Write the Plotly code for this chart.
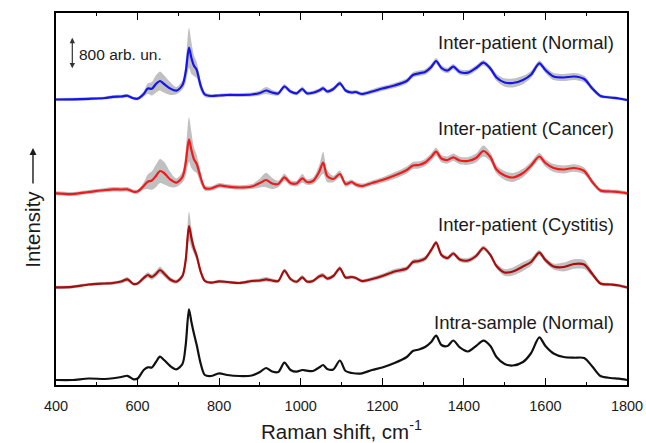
import plotly.graph_objects as go

# Raman shift grid (cm^-1)
wavenumber = [400, 440, 480, 520, 540, 560, 575, 590, 600, 615, 625, 635, 645, 655, 665, 680,
              695, 710, 718, 726, 732, 738, 745, 755, 765, 780, 800, 820, 850, 880, 900, 915,
              930, 945, 960, 975, 990, 1004, 1015, 1030, 1045, 1055, 1065, 1080, 1096, 1110,
              1125, 1135, 1150, 1175, 1200, 1230, 1260, 1275, 1290, 1305, 1320, 1332, 1345,
              1360, 1374, 1390, 1410, 1430, 1448, 1465, 1480, 1500, 1520, 1545, 1565, 1585,
              1600, 1620, 1645, 1670, 1695, 1715, 1735, 1760, 1780, 1800]

# Mean spectra (arb. un.)
normal_mean = [138, 142, 155, 175, 205, 212, 232, 168, 158, 275, 412, 405, 525, 600, 525, 412,
               358, 500, 825, 1432, 1175, 988, 875, 475, 262, 225, 238, 250, 250, 262, 300, 362,
               312, 288, 462, 338, 292, 400, 292, 305, 362, 418, 338, 400, 542, 362,
               312, 325, 275, 338, 412, 488, 600, 750, 792, 825, 950, 1100, 925,
               862, 958, 825, 808, 925, 1058, 912, 688, 562, 550, 625, 762, 1042,
               875, 712, 688, 712, 650, 412, 225, 188, 162, 125]
normal_sd = [40, 40, 40, 40, 45, 45, 45, 40, 40, 70, 130, 170, 220, 240, 220, 160,
             90, 110, 260, 500, 400, 260, 200, 130, 60, 45, 45, 45, 50, 50, 60, 85,
             70, 50, 60, 50, 50, 60, 50, 50, 55, 60, 50, 55, 60, 50,
             50, 50, 50, 55, 60, 65, 70, 70, 70, 70, 75, 75, 70,
             70, 70, 70, 70, 70, 70, 70, 90, 105, 110, 105, 90, 70,
             80, 90, 90, 85, 80, 60, 45, 40, 40, 40]

cancer_mean = [92, 75, 125, 175, 192, 188, 192, 132, 138, 275, 382, 412, 525, 650, 600, 438,
               358, 500, 850, 1442, 1175, 950, 825, 475, 225, 212, 288, 262, 238, 262, 350, 425,
               338, 325, 492, 350, 338, 468, 375, 400, 625, 858, 525, 450, 575, 325,
               375, 312, 275, 350, 425, 538, 675, 788, 800, 862, 1000, 1132, 962,
               925, 992, 912, 900, 975, 1150, 1000, 688, 538, 488, 600, 788, 1012,
               850, 725, 688, 725, 650, 375, 162, 138, 125, 92]
cancer_sd = [50, 50, 50, 50, 55, 55, 55, 50, 50, 90, 180, 230, 280, 300, 280, 190,
             110, 140, 320, 560, 450, 300, 230, 150, 70, 55, 60, 55, 55, 60, 110, 180,
             140, 80, 90, 70, 70, 110, 70, 80, 160, 275, 150, 80, 90, 70,
             65, 60, 60, 65, 70, 80, 85, 90, 90, 90, 95, 100, 95,
             90, 95, 95, 95, 110, 140, 110, 100, 110, 110, 105, 95, 90,
             95, 100, 100, 95, 90, 70, 55, 50, 50, 50]

cystitis_mean = [92, 105, 162, 188, 200, 238, 292, 175, 188, 325, 400, 350, 425, 525, 438, 288,
                 232, 375, 775, 1625, 1325, 1075, 875, 475, 250, 208, 242, 225, 200, 250, 262, 292,
                 262, 250, 508, 300, 232, 342, 238, 250, 362, 388, 312, 375, 568, 338,
                 350, 325, 250, 300, 375, 488, 562, 725, 750, 812, 1025, 1208, 900,
                 825, 938, 788, 762, 875, 1075, 900, 625, 462, 488, 612, 725, 958,
                 775, 612, 600, 675, 662, 425, 188, 162, 138, 92]
cystitis_sd = [40, 40, 40, 40, 45, 45, 60, 40, 40, 60, 70, 70, 80, 90, 80, 60,
               50, 70, 180, 360, 250, 140, 110, 70, 45, 40, 40, 40, 40, 45, 50, 55,
               50, 45, 55, 50, 45, 55, 45, 45, 55, 60, 50, 50, 55, 45,
               45, 45, 45, 50, 55, 60, 60, 60, 60, 60, 60, 55, 55,
               55, 55, 55, 60, 65, 60, 55, 60, 85, 100, 110, 95, 70,
               70, 75, 110, 120, 115, 70, 45, 40, 40, 40]

intra_mean = [125, 125, 162, 150, 168, 200, 230, 142, 162, 375, 442, 438, 575, 708, 625, 475,
              392, 525, 1000, 1892, 1575, 1292, 1000, 525, 250, 225, 292, 250, 225, 238, 325, 425,
              338, 325, 558, 375, 332, 375, 358, 350, 438, 500, 400, 388, 612, 350,
              300, 288, 292, 375, 438, 550, 700, 850, 888, 950, 1075, 1232, 1000,
              975, 1112, 938, 838, 975, 1108, 975, 700, 525, 488, 575, 800, 1192,
              975, 788, 700, 682, 675, 462, 225, 175, 158, 125]

# Stacking offsets and labels
offsets = [7000, 4700, 2350, 0]
labels = ["Inter-patient (Normal)", "Inter-patient (Cancer)",
          "Inter-patient (Cystitis)", "Intra-sample (Normal)"]
means = [normal_mean, cancer_mean, cystitis_mean, intra_mean]
sds = [normal_sd, cancer_sd, cystitis_sd, None]
colors = ["#1414f0", "#f01a1a", "#a80c0c", "#111111"]
label_y = [8575, 6425, 4025, 1575]

BAND = "rgb(192,192,192)"
FONT = "Arial, Liberation Sans, sans-serif"

fig = go.Figure()
for mean, sd, off, col in zip(means, sds, offsets, colors):
    if sd is not None:
        lower = [m - s + off for m, s in zip(mean, sd)]
        upper = [m + s + off for m, s in zip(mean, sd)]
        fig.add_trace(go.Scatter(x=wavenumber, y=lower, mode="lines",
                                 line=dict(width=0, color=BAND, shape="spline", smoothing=0.8),
                                 hoverinfo="skip", showlegend=False))
        fig.add_trace(go.Scatter(x=wavenumber, y=upper, mode="lines", fill="tonexty",
                                 fillcolor=BAND,
                                 line=dict(width=0, color=BAND, shape="spline", smoothing=0.8),
                                 hoverinfo="skip", showlegend=False))
    fig.add_trace(go.Scatter(x=wavenumber, y=[m + off for m in mean], mode="lines",
                             line=dict(width=2.2, color=col, shape="spline", smoothing=0.8),
                             hoverinfo="skip", showlegend=False))

for text, y in zip(labels, label_y):
    fig.add_annotation(x=1773, y=y, xref="x", yref="y", text=text, showarrow=False,
                       xanchor="right", yanchor="middle",
                       font=dict(family=FONT, size=18.5, color="#1a1a1a"))

# 800 arb. un. scale bar
fig.add_annotation(x=440, y=8680, ax=440, ay=7880, xref="x", yref="y", axref="x", ayref="y",
                   text="", showarrow=True, arrowhead=2, startarrowhead=2, arrowside="end+start",
                   arrowsize=0.9, arrowwidth=1.2, arrowcolor="#333333",
                   startarrowsize=0.9)
fig.add_annotation(x=452, y=8275, xref="x", yref="y", text="800 arb. un.", showarrow=False,
                   xanchor="left", yanchor="middle",
                   font=dict(family=FONT, size=15.5, color="#1a1a1a"))

# Y-axis title with an upward arrow
fig.add_annotation(x=-0.0403, y=0.42, xref="paper", yref="paper", text="Intensity",
                   textangle=-90, showarrow=False, xanchor="center", yanchor="middle",
                   font=dict(family=FONT, size=20.5, color="#1a1a1a"))
fig.add_annotation(x=-0.0403, y=0.637, xref="paper", yref="paper", ax=0, ay=37, text="",
                   showarrow=True, arrowhead=2, arrowsize=1, arrowwidth=1.4, arrowcolor="#1a1a1a")

fig.update_xaxes(range=[400, 1800], dtick=200, tick0=400, ticks="inside", ticklen=7,
                 tickwidth=1.4, tickcolor="black", showline=True, linewidth=1.6,
                 linecolor="black", mirror="allticks", showgrid=False, zeroline=False,
                 automargin=False, ticklabelstandoff=7,
                 tickfont=dict(family=FONT, size=14.5, color="#1a1a1a"),
                 minor=dict(ticks="inside", dtick=100, ticklen=3.5, tickwidth=1.4,
                            tickcolor="black", showgrid=False),
                 title=dict(text="Raman shift, cm<sup>-1</sup>", standoff=12,
                            font=dict(family=FONT, size=20.5, color="#1a1a1a")))
fig.update_yaxes(range=[0, 9300], showline=True, linewidth=1.6, linecolor="black", mirror=True,
                 automargin=False,
                 showticklabels=False, ticks="", showgrid=False, zeroline=False)

fig.update_layout(width=646, height=443, margin=dict(l=56, r=19, t=13, b=58, autoexpand=False),
                  plot_bgcolor="white", paper_bgcolor="white", showlegend=False)

fig.write_html("out.html", config={"displayModeBar": False})
